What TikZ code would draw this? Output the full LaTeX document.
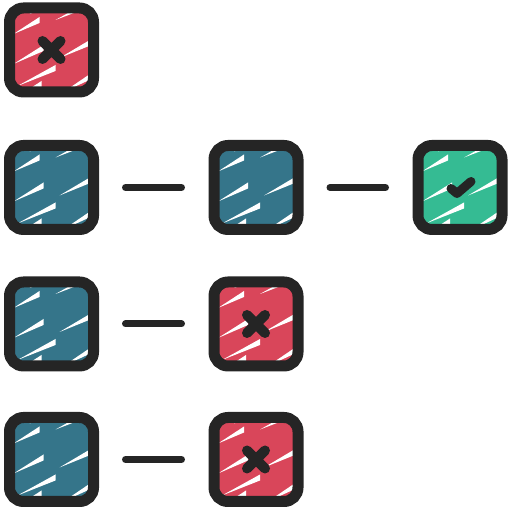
\documentclass[tikz,border=0pt]{standalone}
\usetikzlibrary{positioning}
\definecolor{ink}{HTML}{252525}
\definecolor{failred}{HTML}{D9465A}
\definecolor{waitteal}{HTML}{35758A}
\definecolor{passgreen}{HTML}{35BB93}
\newcommand{\hatchlines}{%
  \foreach \xa/\ya/\xb/\yb in {4/30/38/46, -38/16/-12/30, -38/-14/-8/2, 8/-8/40/8,
      -34/-36/4/-18, 12/-42/40/-26, -22/36/-2/46, -30/-44/-10/-34}
    \fill[white,sharp corners] ([shift={(\xa pt,\ya pt)}]path picture bounding box.center)
      -- ([shift={(\xb pt,\yb pt+3pt)}]path picture bounding box.center)
      -- ([shift={(\xb pt,\yb pt-3pt)}]path picture bounding box.center) -- cycle;}
\newcommand{\crossmark}{%
  \draw[ink,sharp corners,line width=10pt,line cap=round]
    ([shift={(-9pt,-9pt)}]path picture bounding box.center) -- ([shift={(9pt,9pt)}]path picture bounding box.center)
    ([shift={(-9pt,9pt)}]path picture bounding box.center) -- ([shift={(9pt,-9pt)}]path picture bounding box.center);}
\newcommand{\checkmark}{%
  \draw[ink,sharp corners,line width=9pt,line cap=round,line join=round]
    ([shift={(-9pt,-1pt)}]path picture bounding box.center) -- ([shift={(-3pt,-6pt)}]path picture bounding box.center)
    -- ([shift={(11pt,6pt)}]path picture bounding box.center);}
\tikzset{
  stepsq/.style={draw=ink,line width=11pt,rounded corners=14pt,minimum size=84pt,inner sep=0pt},
  waitsq/.style={stepsq,fill=waitteal,path picture={\hatchlines}},
  failsq/.style={stepsq,fill=failred,path picture={\hatchlines\crossmark}},
  passsq/.style={stepsq,fill=passgreen,path picture={\hatchlines\checkmark}},
  link/.style={ink,line width=7pt,line cap=round,shorten <=26.5pt,shorten >=27pt}
}
\begin{document}
\begin{tikzpicture}[x=1pt,y=1pt]
  \useasboundingbox (0,0) rectangle (512,512);
  % first try
  \node[failsq] (solo) at (51.5,462) {};
  % long chain
  \node[waitsq] (a1) at (51.5,324.5) {};
  \node[waitsq] (a2) at (256,324.5) {};
  \node[passsq] (a3) at (460,324.5) {};
  % short chains
  \node[waitsq] (b1) at (51.5,188) {};
  \node[failsq] (b2) at (256,188) {};
  \node[waitsq] (c1) at (51.5,52.5) {};
  \node[failsq] (c2) at (256,52.5) {};
  \draw[link] (a1) -- (a2);
  \draw[link] (a2) -- (a3);
  \draw[link] (b1) -- (b2);
  \draw[link] (c1) -- (c2);
\end{tikzpicture}
\end{document}
